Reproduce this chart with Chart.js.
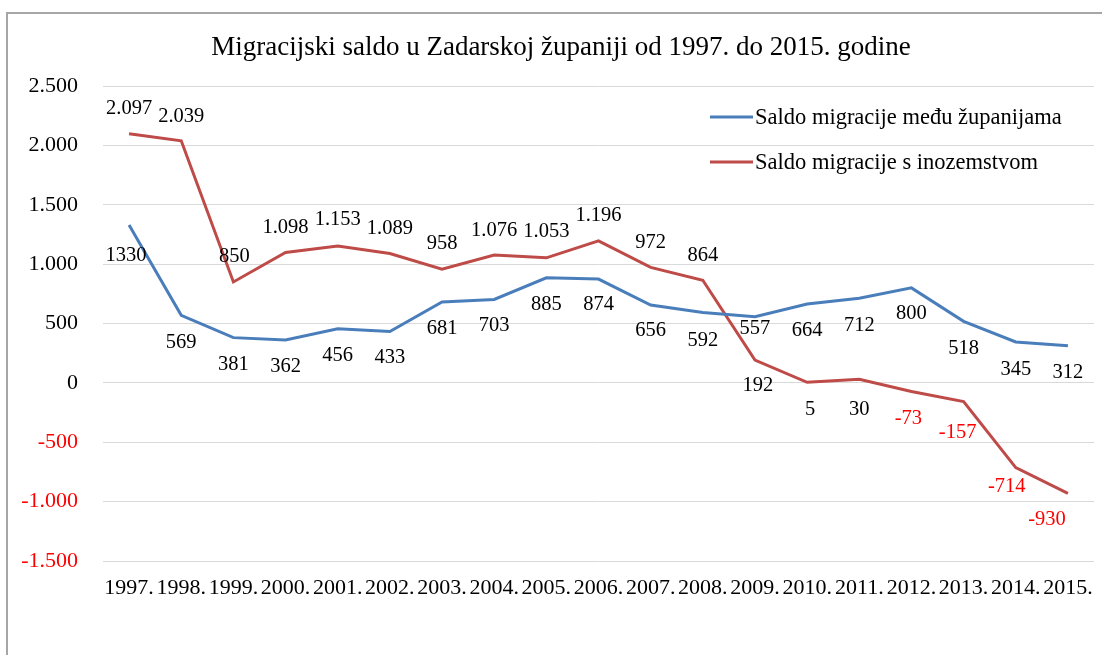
<!DOCTYPE html>
<html lang="hr">
<head>
<meta charset="utf-8">
<title>Migracijski saldo</title>
<script src="https://cdn.jsdelivr.net/npm/chart.js@4.4.1/dist/chart.umd.min.js"></script>
<style>
    html, body { margin: 0; padding: 0; background: #fff; overflow: hidden; }
    #wrap { position: relative; width: 1102px; height: 655px; }
    #frame {
        position: absolute; left: 6px; top: 12px; width: 1200px; height: 800px;
        border-top: 2px solid #a6a6a6; border-left: 2px solid #a6a6a6;
    }
    canvas { position: absolute; left: 0; top: 0; }
</style>
</head>
<body>
<div id="wrap">
    <div id="frame"></div>
    <canvas id="mainChart" width="1102" height="655"></canvas>
</div>
<script>
// 📊 DATA
const years = ['1997.', '1998.', '1999.', '2000.', '2001.', '2002.', '2003.', '2004.', '2005.', '2006.',
               '2007.', '2008.', '2009.', '2010.', '2011.', '2012.', '2013.', '2014.', '2015.'];
const betweenCounties = [1330, 569, 381, 362, 456, 433, 681, 703, 885, 874, 656, 592, 557, 664, 712, 800, 518, 345, 312];
const withAbroad = [2097, 2039, 850, 1098, 1153, 1089, 958, 1076, 1053, 1196, 972, 864, 192, 5, 30, -73, -157, -714, -930];
const yTicks = [2500, 2000, 1500, 1000, 500, 0, -500, -1000, -1500];

const titleText = 'Migracijski saldo u Zadarskoj županiji od 1997. do 2015. godine';
const seriesNames = ['Saldo migracije među županijama', 'Saldo migracije s inozemstvom'];

// label nudges (px) relative to each point, like the Excel original
const blueDx = [-3, 0, 0, 0, 0, 0, 0, 0, 0, 0, 0, 0, 0, 0, 0, 0, 0, 0, 0];
const blueDy = [31, 27, 27, 27, 27, 26, 27, 26, 27, 26, 26, 28, 12, 27, 27, 26, 27, 28, 27];
const redDx = [0, 0, 1, 0, 0, 0, 0, 0, 0, 0, 0, 0, 3, 3, 0, -3, -6, -9, -21];
const redDy = [-25, -24, -25, -25, -26, -25, -26, -24, -26, -25, -25, -25, 26, 27, 30, 27, 31, 19, 26];

const BLUE = '#4A7EBB';
const RED = '#BE4B48';
const SERIF = '"Liberation Serif", "Times New Roman", serif';

// 1.500 style thousands separator
function fmtDots(v) {
    const s = String(Math.abs(v)).replace(/\B(?=(\d{3})+(?!\d))/g, '.');
    return (v < 0 ? '-' : '') + s;
}

// 🏷️ data labels, title and legend drawn by hand
const decorPlugin = {
    id: 'decor',
    afterDatasetsDraw(chart) {
        const ctx = chart.ctx;
        ctx.save();
        ctx.font = '20.5px ' + SERIF;
        ctx.textAlign = 'center';
        ctx.textBaseline = 'middle';
        chart.data.datasets.forEach((ds, di) => {
            const meta = chart.getDatasetMeta(di);
            meta.data.forEach((pt, i) => {
                const v = ds.data[i];
                const dx = di === 0 ? blueDx[i] : redDx[i];
                const dy = di === 0 ? blueDy[i] : redDy[i];
                ctx.fillStyle = v < 0 ? '#FF0000' : '#000000';
                const txt = di === 0 ? String(v) : fmtDots(v);
                ctx.fillText(txt, pt.x + dx, pt.y + dy);
            });
        });
        ctx.restore();
    },
    afterDraw(chart) {
        const ctx = chart.ctx;
        const area = chart.chartArea;
        ctx.save();

        // title
        ctx.font = '27px ' + SERIF;
        ctx.fillStyle = '#000';
        ctx.textAlign = 'center';
        ctx.textBaseline = 'alphabetic';
        ctx.fillText(titleText, 561, 55);

        // legend
        const colors = [BLUE, RED];
        const x0 = area.right - 384;
        ctx.font = '22.5px ' + SERIF;
        ctx.textAlign = 'left';
        seriesNames.forEach((name, i) => {
            const y = area.top + 31 + i * 45;
            ctx.strokeStyle = colors[i];
            ctx.lineWidth = 3;
            ctx.beginPath();
            ctx.moveTo(x0, y);
            ctx.lineTo(x0 + 43, y);
            ctx.stroke();
            ctx.fillStyle = '#000';
            ctx.fillText(name, x0 + 45, y + 7);
        });
        ctx.restore();
    }
};

// 🏗️ CHART
function renderChart() {
    const ctx = document.getElementById('mainChart').getContext('2d');
    window.myChart = new Chart(ctx, {
        type: 'line',
        data: {
            labels: years,
            datasets: [
                {
                    label: seriesNames[0],
                    data: betweenCounties,
                    borderColor: BLUE,
                    borderWidth: 3,
                    pointRadius: 0,
                    tension: 0,
                    fill: false
                },
                {
                    label: seriesNames[1],
                    data: withAbroad,
                    borderColor: RED,
                    borderWidth: 3,
                    pointRadius: 0,
                    tension: 0,
                    fill: false
                }
            ]
        },
        options: {
            responsive: false,
            animation: false,
            layout: { padding: { top: 86, left: 0, right: 8, bottom: 0 } },
            plugins: {
                legend: { display: false },
                title: { display: false },
                tooltip: { enabled: false }
            },
            scales: {
                x: {
                    offset: true,
                    grid: { display: false, drawTicks: false },
                    border: { display: false },
                    ticks: {
                        color: '#000',
                        font: { family: SERIF, size: 22 },
                        padding: 14,
                        maxRotation: 0,
                        autoSkip: false
                    },
                    afterFit: s => {
                        s.height = 94;
                        s.paddingLeft = 0;
                        s.paddingRight = 0;
                    }
                },
                y: {
                    min: yTicks[yTicks.length - 1],
                    max: yTicks[0],
                    afterBuildTicks: s => { s.ticks = yTicks.map(v => ({ value: v })); },
                    grid: { color: '#d9d9d9', lineWidth: 1, drawTicks: false },
                    border: { display: false },
                    ticks: {
                        font: { family: SERIF, size: 22 },
                        padding: 25,
                        color: c => (c.tick && c.tick.value < 0 ? '#FF0000' : '#000000'),
                        callback: v => fmtDots(v)
                    },
                    afterFit: s => { s.width = 103; }
                }
            }
        },
        plugins: [decorPlugin]
    });
}

document.addEventListener('DOMContentLoaded', renderChart);
</script>
</body>
</html>
